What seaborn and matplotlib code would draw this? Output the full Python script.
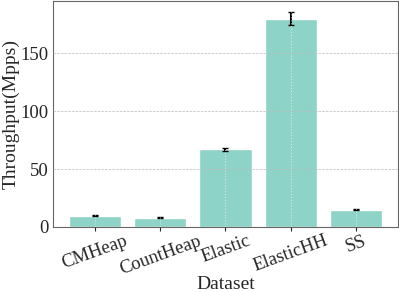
import matplotlib
matplotlib.use("Agg")
import matplotlib.pyplot as plt
import seaborn as sns
import pandas as pd

datasets = ["CMHeap", "CountHeap", "Elastic", "ElasticHH", "SS"]
throughput = [9.5, 7.9, 67.0, 180.0, 14.7]
errors = [0.5, 0.4, 1.5, 5.5, 0.4]

df = pd.DataFrame({"Dataset": datasets, "Throughput": throughput})

sns.set_style("whitegrid", {"axes.edgecolor": "#666666"})
plt.rcParams["font.family"] = ["Liberation Serif", "DejaVu Serif"]

fig = plt.figure(figsize=(3.99, 2.92), dpi=100)
ax = fig.add_axes([0.133, 0.223, 0.864, 0.775])
sns.barplot(data=df, x="Dataset", y="Throughput", color="#8dd3c7",
            saturation=1, errorbar=None, ax=ax)
ax.errorbar(range(len(datasets)), throughput, yerr=errors, fmt="none",
            ecolor="black", elinewidth=1.5, capsize=2)
ax.grid(True, axis="x", linestyle=":", color="white", alpha=0.6)
ax.grid(True, axis="y", linestyle="--", color="#bbbbbb", linewidth=0.5)
ax.set_axisbelow(False)
for b in ax.patches:
    b.set_zorder(0.5)
ax.tick_params(axis="x", labelsize=13.5, rotation=20, length=3, bottom=True, pad=1)
ax.tick_params(axis="y", labelsize=13.5, length=0, pad=3)
ax.set_xlabel("Dataset", fontsize=14, labelpad=-1)
ax.set_ylabel("Throughput(Mpps)", fontsize=14, labelpad=1)
ax.set_yticks([0, 50, 100, 150])
ax.set_ylim(0, 195.5)
plt.savefig("out.png", dpi=100)
